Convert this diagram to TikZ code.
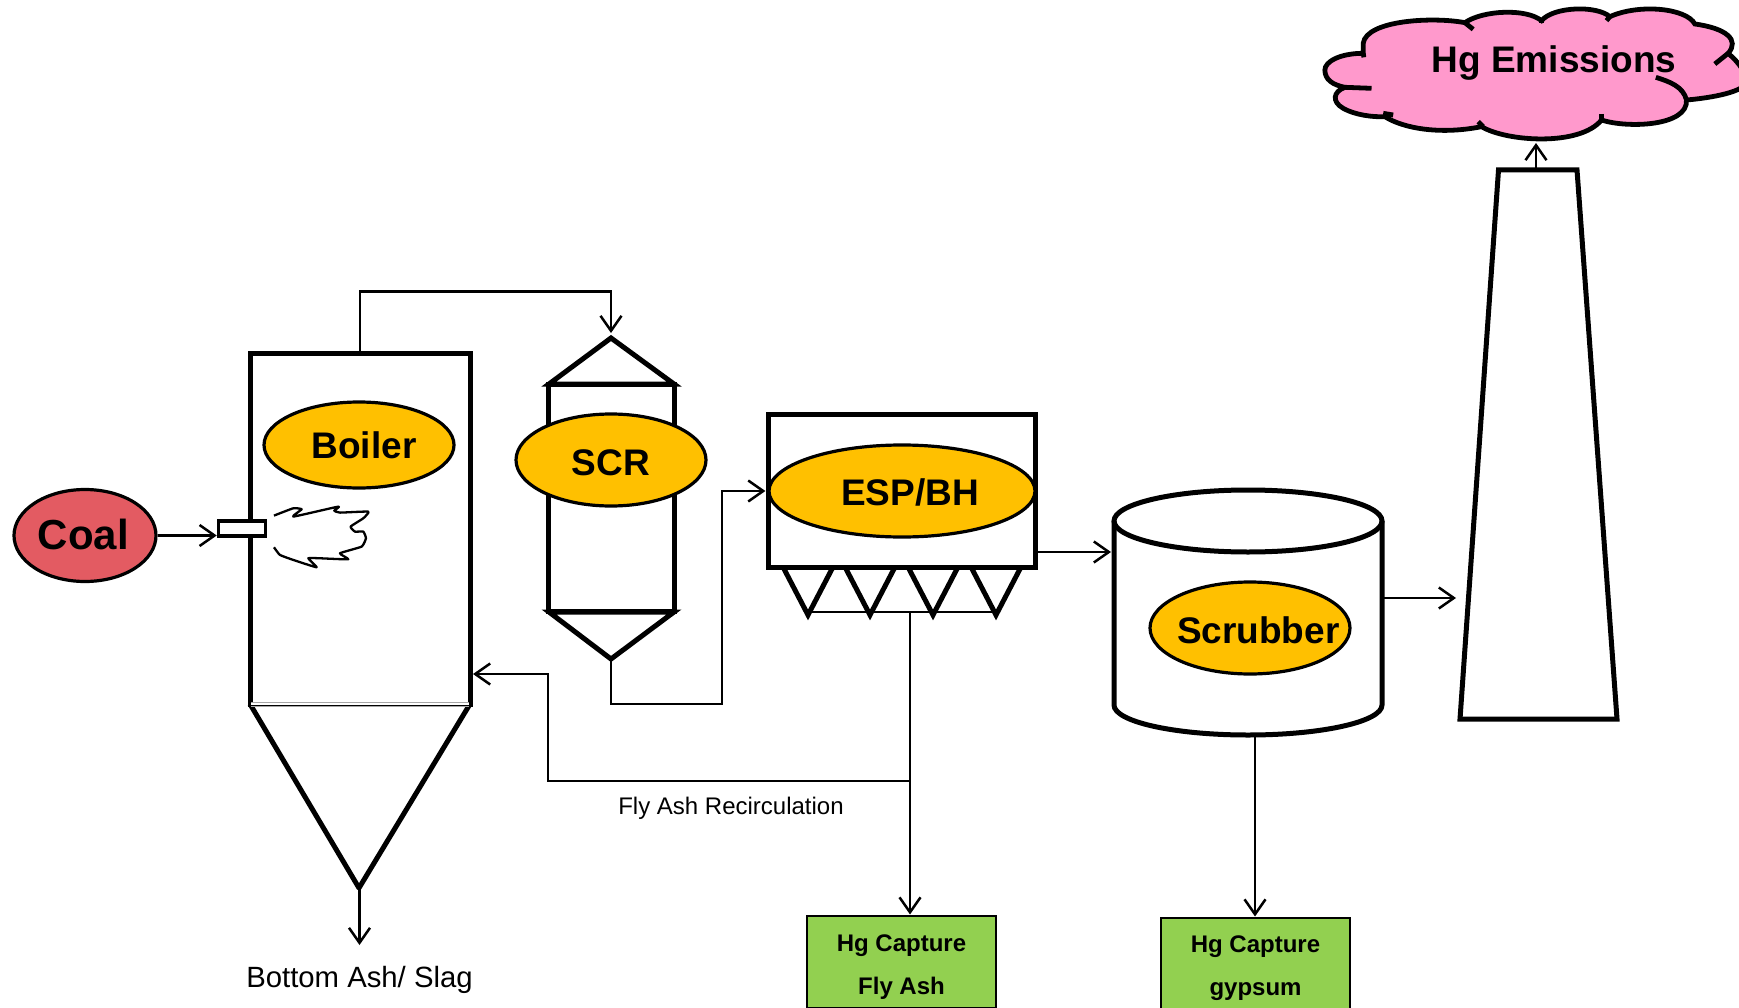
\documentclass[tikz,border=0pt]{standalone}
\usepackage{fontspec}
\setmainfont{Liberation Sans}
\usetikzlibrary{arrows.meta, shapes.geometric, positioning, calc}
\newcommand{\taglabel}[2]{\makebox[0pt]{\hspace{#1}#2}}
\tikzset{
    flow/.style={line width=2.2pt, -{Straight Barb[length=15pt, width=21pt, line width=2.5pt]}},
    vessel/.style={draw, line width=5pt, line join=miter},
    tag/.style={ellipse, draw, line width=3.2pt, fill=tagorange, inner sep=0pt, text depth=0pt, font=\fontsize{37}{40}\selectfont\bfseries},
    capture/.style={draw, line width=2pt, fill=capgreen, inner sep=0pt, align=center, minimum width=189pt, minimum height=92pt, font=\fontsize{24}{43}\selectfont\bfseries},
    caption/.style={inner sep=0pt}
}
\definecolor{tagorange}{HTML}{FFC000}
\definecolor{capgreen}{HTML}{92D050}
\definecolor{coalred}{HTML}{E35B62}
\definecolor{cloudpink}{HTML}{FF99CC}

\begin{document}
\begin{tikzpicture}[x=1pt, y=-1pt]
    \useasboundingbox (0,0) rectangle (1739,1008);

    % Draw the boiler with its cone
    \node[vessel, minimum width=220pt, minimum height=351pt, inner sep=0pt] (boilerbox) at (360,528.5) {};
    \draw[vessel, line join=round] (250,704) -- (359,888) -- (470,704);
    \coordinate (conetip) at (359.5,888);
    \draw[gray!70, line width=1pt] (251,702) -- (469,702);
    \draw[white, line width=2.5pt] (251,704) -- (469,704);
    \draw[gray!70, line width=1pt] (251,706) -- (469,706);

    % Draw the SCR
    \draw[vessel] (548,384) rectangle (674,611);
    \draw[vessel] (549,384) -- (611,338) -- (674,384) -- cycle;
    \draw[vessel] (549,612) -- (611,659) -- (674,612) -- cycle;
    \coordinate (scrtop) at (611,337);
    \coordinate (scrbottom) at (611,659);

    % Draw the ESP/BH and its hoppers
    \node[vessel, minimum width=267pt, minimum height=153pt, inner sep=0pt] (espbox) at (902,490.5) {};
    \foreach \x in {808, 870, 933, 996} {
        \draw[line width=5pt] (\x-25,567) -- (\x,615) -- (\x+25,567);
    }
    \draw[line width=2.2pt] (808,612) -- (996,612);
    \coordinate (hopperbase) at (910,612);
    \coordinate (recirc) at (910,781);

    % Draw the scrubber
    \draw[vessel] (1114,521) -- (1114,705) arc[start angle=180, end angle=0, x radius=134, y radius=30] -- (1382,521);
    \draw[line width=5pt] (1248,521) ellipse [x radius=134, y radius=31];
    \coordinate (scrubbase) at (1255,735);

    % Draw the stack
    \draw[vessel] (1498.5,170) -- (1577,170) -- (1617,719) -- (1460,719) -- cycle;
    \coordinate (stacktop) at (1536,170);
    \coordinate (cloudbase) at (1536,143);

    % Draw the cloud
    \begin{scope}[x=0.3333pt, y=-0.3333pt, shift={(3900,0)}, line width=4.8pt]
        \draw[fill=cloudpink] (190,160)
            .. controls (120,160) and (75,185) .. (75,210)
            .. controls (75,240) and (100,255) .. (135,262)
            .. controls (100,275) and (95,305) .. (130,325)
            .. controls (165,345) and (220,352) .. (255,350)
            .. controls (310,385) and (420,405) .. (545,380)
            .. controls (620,425) and (840,440) .. (905,360)
            .. controls (980,385) and (1165,380) .. (1160,300)
            .. controls (1220,295) and (1320,280) .. (1340,250)
            .. controls (1340,220) and (1320,190) .. (1285,160)
            .. controls (1320,120) and (1280,85) .. (1185,72)
            .. controls (1160,25) and (1020,10) .. (930,50)
            .. controls (890,15) and (760,20) .. (725,62)
            .. controls (680,25) and (550,30) .. (495,68)
            .. controls (400,50) and (200,60) .. (190,130) -- cycle;
        % Add the short tails
        \draw (135,262) -- (215,265);
        \draw (250,340) -- (280,345);
        \draw (535,365) -- (550,380);
        \draw (905,342) -- (905,360);
        \draw (1160,300) .. controls (1150,260) and (1110,245) .. (1068,232);
        \draw (1245,192) -- (1285,160);
        \draw (930,50) -- (920,62);
        \draw (725,62) -- (725,70);
        \draw (495,68) -- (520,88);
        \draw (190,160) -- (192,172);
    \end{scope}

    % Draw the burner and flame
    \node[draw, line width=3.5pt, fill=white, minimum width=47pt, minimum height=15pt, inner sep=0pt] (burner) at (242,528.5) {};
    \begin{scope}[x=0.3333pt, y=-0.3333pt, shift={(0,1410)}]
        \draw[line width=2.3pt, line join=round] plot[smooth, tension=0.25] coordinates {(822,137) (880,115) (905,118) (880,140) (1015,110) (1003,122) (1020,128) (1105,125) (1090,145) (1052,170) (1065,185) (1090,185) (1098,205) (1085,230) (1020,250) (1045,268) (960,265) (925,265) (950,292) (880,270) (840,255) (822,232)};
    \end{scope}

    % Add the labels
    \node[tag, fill=coalred, minimum width=142pt, minimum height=92pt, text height=28pt, font=\fontsize{42}{44}\selectfont\bfseries] (coal) at (85,535.5) {\taglabel{-3pt}{Coal}};
    \node[tag, minimum width=190pt, minimum height=86pt, text height=26pt] (boiler) at (359,445) {\taglabel{10pt}{Boiler}};
    \node[tag, minimum width=190pt, minimum height=92pt, text height=31pt] (scr) at (611,460) {\taglabel{0pt}{SCR}};
    \node[tag, minimum width=266pt, minimum height=92pt, text height=29pt] (esp) at (902,491) {\taglabel{16pt}{ESP/BH}};
    \node[tag, minimum width=200pt, minimum height=92pt, text height=30pt] (scrubber) at (1250,628) {\taglabel{16.6pt}{Scrubber}};
    \node[caption, font=\fontsize{37}{40}\selectfont\bfseries] (emissions) at (1554,63) {Hg Emissions};
    \node[capture] (flyash) at (901.5,961.5) {\rule{0pt}{27pt}Hg Capture\\Fly Ash};
    \node[capture] (gypsum) at (1255.5,963.5) {\rule{0pt}{27pt}Hg Capture\\gypsum};
    \node[caption, font=\fontsize{24}{28}\selectfont] (recirclabel) at (731,808) {Fly Ash Recirculation};
    \node[caption, font=\fontsize{29.3}{32}\selectfont] (slag) at (359.5,979.5) {Bottom Ash/ Slag};
    \coordinate (slagtop) at (359.5,945);

    % Draw the connectors
    \draw[flow] (coal.east) -- (coal.east -| burner.west);
    \draw[flow] (boilerbox.north) -- ++(0,-59) -| ($(scrtop)+(0,-4)$);
    \draw[flow] (scrbottom) |- (722,704) |- ($(esp.west)+(-2,0)$);
    \draw[flow] (espbox.east |- 0,552) -- (1111,552);
    \draw[flow] (1382,598) -- (1456,598);
    \draw[flow] (hopperbase) -- (flyash.north -| hopperbase);
    \draw[flow] (recirc) -- (548,781) |- (473,674);
    \draw[flow] (scrubbase) -- (gypsum.north -| scrubbase);
    \draw[flow] (conetip) -- (slagtop);
    \draw[flow] (stacktop) -- (cloudbase);
\end{tikzpicture}
\end{document}
